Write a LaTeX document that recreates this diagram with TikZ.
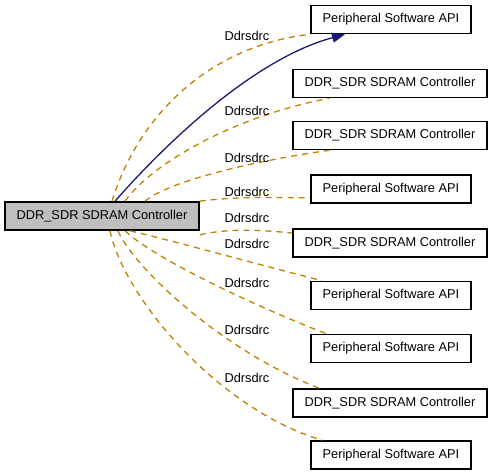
\documentclass[tikz,border=0pt]{standalone}
\usepackage{fontspec}
\setmainfont{Liberation Sans}
\usetikzlibrary{arrows.meta}
\definecolor{edgeorange}{RGB}{196,128,0}
\definecolor{edgenavy}{RGB}{25,25,112}
\definecolor{maingray}{RGB}{191,191,191}
\begin{document}
\begin{tikzpicture}[x=1pt,y=-1pt,
    box/.style={draw,line width=1.6pt,fill=white,inner sep=0pt,minimum height=28pt,font=\fontsize{12.8}{15}\selectfont},
    peri/.style={box,minimum width=160pt},
    ctrl/.style={box,minimum width=194pt},
    usage/.style={edgeorange,line width=1.3pt,dash pattern=on 6pt off 5pt},
    lbl/.style={inner sep=0pt,font=\fontsize{12.8}{15}\selectfont}]
  \useasboundingbox (0,0) rectangle (493,476);
  \node[ctrl,fill=maingray] (main) at (102,216) {DDR\_SDR SDRAM Controller};
  \node[peri] (b1) at (391,19.5) {Peripheral Software API};
  \node[ctrl] (b2) at (390,83.5) {DDR\_SDR SDRAM Controller};
  \node[ctrl] (b3) at (390,135.5) {DDR\_SDR SDRAM Controller};
  \node[peri] (b4) at (391,189) {Peripheral Software API};
  \node[ctrl] (b5) at (390,243) {DDR\_SDR SDRAM Controller};
  \node[peri] (b6) at (391,295.5) {Peripheral Software API};
  \node[peri] (b7) at (391,348.5) {Peripheral Software API};
  \node[ctrl] (b8) at (390,403) {DDR\_SDR SDRAM Controller};
  \node[peri] (b9) at (391,455) {Peripheral Software API};
  % dashed usage edges
  \draw[usage] ([xshift=10pt]main.north) .. controls (140,110) and (215,45) .. (b1.south west);
  \draw[usage] ([xshift=23pt]main.north) .. controls (155,160) and (240,115) .. ([xshift=37pt]b2.south west);
  \draw[usage] ([xshift=43pt]main.north) .. controls (170,180) and (260,160) .. ([xshift=37pt]b3.south west);
  \draw[usage] (main.north east) .. controls (230,197) and (270,197) .. ([yshift=-9pt]b4.west);
  \draw[usage] ([yshift=-4pt]main.south east) .. controls (230,228) and (260,230) .. ([yshift=10pt]b5.west);
  \draw[usage] ([xshift=28pt]main.south) .. controls (170,240) and (260,265) .. ([xshift=12pt]b6.north west);
  \draw[usage] ([xshift=23pt]main.south) .. controls (150,255) and (240,300) .. ([xshift=16pt]b7.north west);
  \draw[usage] ([xshift=16pt]main.south) .. controls (132,265) and (220,350) .. ([xshift=27pt]b8.north west);
  \draw[usage] ([xshift=8pt]main.south) .. controls (125,300) and (220,410) .. ([xshift=12pt]b9.north west);
  % solid edge
  \draw[edgenavy,line width=1.3pt,-{Triangle[length=13pt,width=10pt]}] ([xshift=13pt]main.north) .. controls (160,150) and (250,60) .. ([xshift=-46pt]b1.south);
  \node[lbl] (l1) at (247,36) {Ddrsdrc};
  \node[lbl] (l2) at (247,111) {Ddrsdrc};
  \node[lbl] (l3) at (247,158) {Ddrsdrc};
  \node[lbl] (l4) at (247,192) {Ddrsdrc};
  \node[lbl] (l5) at (247,218) {Ddrsdrc};
  \node[lbl] (l6) at (247,244) {Ddrsdrc};
  \node[lbl] (l7) at (247,283) {Ddrsdrc};
  \node[lbl] (l8) at (247,330) {Ddrsdrc};
  \node[lbl] (l9) at (247,378) {Ddrsdrc};
\end{tikzpicture}
\end{document}
